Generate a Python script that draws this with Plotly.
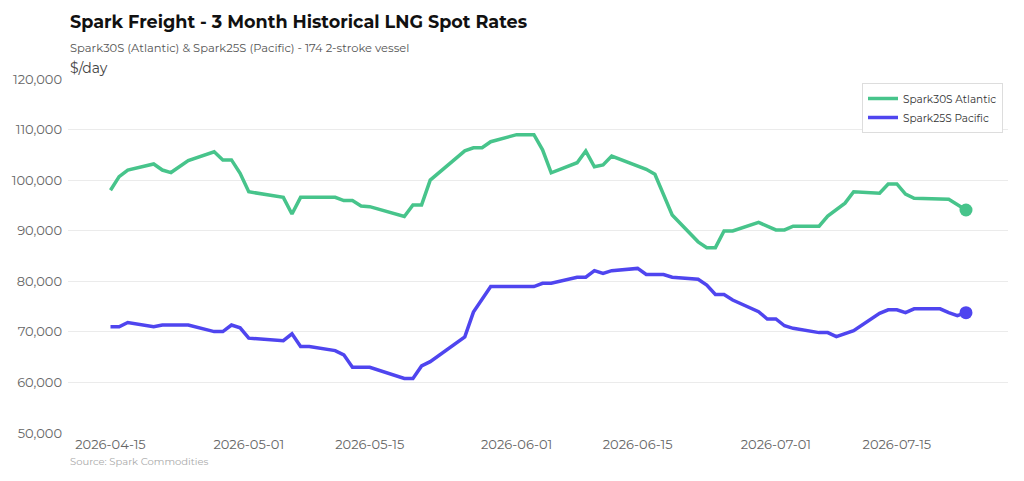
import plotly.graph_objects as go

# ---- data ----
atl_dates = ["2026-04-15","2026-04-16","2026-04-17","2026-04-20","2026-04-21","2026-04-22","2026-04-24",
             "2026-04-27","2026-04-28","2026-04-29","2026-04-30","2026-05-01","2026-05-05","2026-05-06",
             "2026-05-07","2026-05-11","2026-05-12","2026-05-13","2026-05-14","2026-05-15","2026-05-19",
             "2026-05-20","2026-05-21","2026-05-22","2026-05-26","2026-05-27","2026-05-28","2026-05-29",
             "2026-06-01","2026-06-03","2026-06-04","2026-06-05","2026-06-08","2026-06-09","2026-06-10",
             "2026-06-11","2026-06-12","2026-06-16","2026-06-17","2026-06-19","2026-06-22","2026-06-23",
             "2026-06-24","2026-06-25","2026-06-26","2026-06-29","2026-07-01","2026-07-02","2026-07-03",
             "2026-07-06","2026-07-07","2026-07-09","2026-07-10","2026-07-13","2026-07-14","2026-07-15",
             "2026-07-16","2026-07-17","2026-07-21","2026-07-23"]
atl_values = [98000,100700,102000,103200,102000,101500,103850,
              105600,104000,104000,101350,97700,96600,93300,
              96600,96600,95950,95950,94900,94750,92800,
              95100,95100,100000,105800,106400,106400,107600,
              109000,109000,106000,101450,103450,105750,102650,
              103000,104750,102150,101150,93100,87800,86650,
              86650,89950,89950,91650,90150,90150,90900,
              90900,92900,95450,97700,97400,99250,99250,
              97250,96400,96200,94100]

pac_dates = ["2026-04-15","2026-04-16","2026-04-17","2026-04-20","2026-04-21","2026-04-24","2026-04-27",
             "2026-04-28","2026-04-29","2026-04-30","2026-05-01","2026-05-05","2026-05-06","2026-05-07",
             "2026-05-08","2026-05-11","2026-05-12","2026-05-13","2026-05-15","2026-05-19","2026-05-20",
             "2026-05-21","2026-05-22","2026-05-26","2026-05-27","2026-05-29","2026-06-03","2026-06-04",
             "2026-06-05","2026-06-08","2026-06-09","2026-06-10","2026-06-11","2026-06-12","2026-06-15",
             "2026-06-16","2026-06-18","2026-06-19","2026-06-22","2026-06-23","2026-06-24","2026-06-25",
             "2026-06-26","2026-06-29","2026-06-30","2026-07-01","2026-07-02","2026-07-03","2026-07-06",
             "2026-07-07","2026-07-08","2026-07-09","2026-07-10","2026-07-13","2026-07-14","2026-07-15",
             "2026-07-16","2026-07-17","2026-07-20","2026-07-21","2026-07-22","2026-07-23"]
pac_values = [71000,71000,71850,71000,71350,71350,70050,
              70050,71350,70800,68750,68250,69600,67100,
              67100,66300,65450,63000,63000,60800,60800,
              63250,64100,69000,73900,78950,78950,79600,
              79600,80800,80800,82100,81550,82100,82550,
              81350,81350,80800,80400,79250,77400,77400,
              76300,74000,72550,72550,71200,70700,69850,
              69850,69050,69600,70250,73650,74350,74350,
              73800,74550,74550,73800,73200,73800]

y_ticks = [50000, 60000, 70000, 80000, 90000, 100000, 110000, 120000]
x_ticks = ["2026-04-15","2026-05-01","2026-05-15","2026-06-01","2026-06-15","2026-07-01","2026-07-15"]

GREEN = "#47c48b"
BLUE = "#4f45ef"
FONT = "Montserrat, 'Open Sans', sans-serif"

W, H = 1024, 481
L, R, T, B = 68, 16, 79, 48
PW, PH = W - L - R, H - T - B

def px(x):
    return (x - L) / PW

def py(y):
    return (H - B - y) / PH

fig = go.Figure()
fig.add_trace(go.Scatter(x=atl_dates, y=atl_values, mode="lines", name="Spark30S Atlantic",
                         line=dict(color=GREEN, width=3.5), hoverinfo="skip"))
fig.add_trace(go.Scatter(x=pac_dates, y=pac_values, mode="lines", name="Spark25S Pacific",
                         line=dict(color=BLUE, width=3.5), hoverinfo="skip"))
fig.add_trace(go.Scatter(x=[atl_dates[-1]], y=[atl_values[-1]], mode="markers", showlegend=False,
                         marker=dict(color=GREEN, size=13), hoverinfo="skip"))
fig.add_trace(go.Scatter(x=[pac_dates[-1]], y=[pac_values[-1]], mode="markers", showlegend=False,
                         marker=dict(color=BLUE, size=13), hoverinfo="skip"))

fig.update_layout(
    width=W, height=H,
    margin=dict(l=L, r=R, t=T, b=B, pad=0),
    paper_bgcolor="white", plot_bgcolor="white",
    font=dict(family=FONT, color="#555"),
    showlegend=True,
    legend=dict(x=px(1003), y=py(83), xanchor="right", yanchor="top",
                bgcolor="white", bordercolor="#dddddd", borderwidth=1,
                font=dict(size=10.5, color="#333"), itemwidth=30, tracegroupgap=0),
    xaxis=dict(type="date", range=["2026-04-10 02:00", "2026-07-27 20:40"],
               tickvals=x_ticks, ticktext=x_ticks, showgrid=False, zeroline=False,
               showline=False, ticks="", ticklabelstandoff=2, tickfont=dict(size=13, color="#666")),
    yaxis=dict(range=[50000, 120000], tickvals=y_ticks,
               ticktext=[f"{v:,}" for v in y_ticks], showgrid=True,
               gridcolor="#ebebeb", gridwidth=1, zeroline=False, showline=False,
               ticks="", ticklabelstandoff=5, tickfont=dict(size=13, color="#666")),
    annotations=[
        dict(text="<b>Spark Freight - 3 Month Historical LNG Spot Rates</b>", x=px(68), y=py(22),
             xref="paper", yref="paper", xanchor="left", yanchor="middle", showarrow=False,
             font=dict(size=17.6, color="#111", family=FONT)),
        dict(text="Spark30S (Atlantic) & Spark25S (Pacific) - 174 2-stroke vessel", x=px(68), y=py(48),
             xref="paper", yref="paper", xanchor="left", yanchor="middle", showarrow=False,
             font=dict(size=11.5, color="#555", family=FONT)),
        dict(text="$/day", x=px(68), y=py(68), xref="paper", yref="paper", xanchor="left",
             yanchor="middle", showarrow=False, font=dict(size=14, color="#444", family=FONT)),
        dict(text="Source: Spark Commodities", x=px(68), y=py(461), xref="paper", yref="paper",
             xanchor="left", yanchor="middle", showarrow=False,
             font=dict(size=10, color="#aaa", family=FONT)),
    ],
)

fig.write_html("out.html")
